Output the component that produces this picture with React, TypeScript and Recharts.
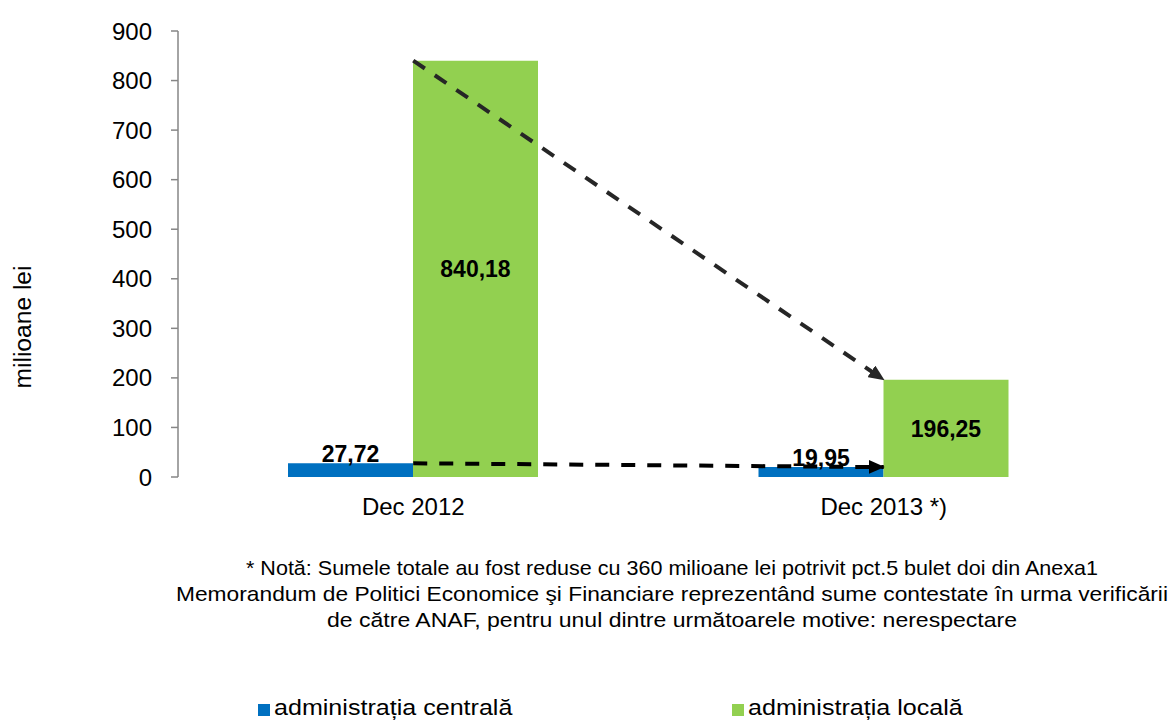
import React from "react";
import {
  ComposedChart,
  Bar,
  XAxis,
  YAxis,
  LabelList,
  ReferenceLine,
  Legend,
  Customized,
} from "recharts";

const categories = ["Dec 2012", "Dec 2013 *)"];
const centralValues = [27.72, 19.95];
const localValues = [840.18, 196.25];
const yTicks = [0, 100, 200, 300, 400, 500, 600, 700, 800, 900];
const boundaryTicks = [0, 1, 2];
const seriesNames = ["administrația centrală", "administrația locală"];
const noteLines = [
  "* Notă: Sumele totale au fost reduse cu 360 milioane lei potrivit pct.5 bulet doi din Anexa1",
  "Memorandum de Politici Economice şi Financiare reprezentând sume contestate în urma verificării",
  "de către ANAF,  pentru unul dintre următoarele motive: nerespectare",
];
const noteWidths = [852, 992, 690];

const data = categories.map((name, i) => ({
  name,
  central: centralValues[i],
  local: localValues[i],
}));

const FONT = "Arial, 'Liberation Sans', sans-serif";
const BLUE = "#0070C0";
const GREEN = "#92D050";
const AXIS = "#868686";

const fmt = (v: number) => v.toFixed(2).replace(".", ",");

function arrowShape(id: string, color: string) {
  return (props: any) => {
    const { x1, y1, x2, y2 } = props;
    return (
      <g>
        <defs>
          <marker
            id={id}
            markerUnits="userSpaceOnUse"
            markerWidth={16}
            markerHeight={14}
            refX={15}
            refY={7}
            orient="auto"
          >
            <path d="M0,0 L16,7 L0,14 z" fill={color} />
          </marker>
        </defs>
        <line
          x1={x1}
          y1={y1}
          x2={x2}
          y2={y2}
          stroke={color}
          strokeWidth={4}
          strokeDasharray="14 12"
          markerEnd={`url(#${id})`}
        />
      </g>
    );
  };
}

function Note() {
  return (
    <g>
      {noteLines.map((line, i) => (
        <text
          key={i}
          x={672}
          y={575 + i * 26}
          textAnchor="middle"
          fontFamily={FONT}
          fontSize={21}
          fill="#000"
          textLength={noteWidths[i]}
          lengthAdjust="spacingAndGlyphs"
        >
          {line}
        </text>
      ))}
    </g>
  );
}

function LegendContent({ payload }: any) {
  return (
    <div style={{ display: "flex", paddingLeft: 258, fontFamily: FONT }}>
      {(payload || []).map((entry: any) => (
        <div
          key={entry.value}
          style={{
            width: 474,
            flexShrink: 0,
            display: "flex",
            alignItems: "center",
            fontSize: 22,
            color: "#000",
          }}
        >
          <span
            style={{
              display: "inline-block",
              width: 12,
              height: 12,
              background: entry.color,
              marginRight: 4,
              marginTop: 4,
            }}
          />
          <span style={{ display: "inline-block", transform: "scaleX(1.14)", transformOrigin: "left center" }}>
            {entry.value}
          </span>
        </div>
      ))}
    </div>
  );
}

export default function App() {
  return (
    <div style={{ position: "absolute", left: 0, top: 0, width: 1168, height: 720, background: "#fff", overflow: "hidden" }}>
      <ComposedChart
        width={1168}
        height={720}
        data={data}
        margin={{ top: 31, right: 49, left: 118, bottom: 203 }}
        barGap={0}
      >
        <XAxis
          xAxisId="edges"
          type="number"
          domain={[0, 2]}
          ticks={boundaryTicks}
          allowDataOverflow
          height={0}
          tickSize={7}
          tickLine={{ stroke: AXIS, strokeWidth: 1.5 }}
          axisLine={{ stroke: AXIS, strokeWidth: 1.5 }}
          tickFormatter={() => ""}
        />
        <XAxis
          xAxisId="cat"
          dataKey="name"
          height={40}
          axisLine={false}
          tickLine={false}
          tickSize={0}
          tickMargin={21}
          tick={{ fontFamily: FONT, fontSize: 24, fill: "#000" }}
        />
        <YAxis
          width={60}
          domain={[0, 900]}
          ticks={yTicks}
          interval={0}
          tickSize={7}
          tickMargin={19}
          axisLine={{ stroke: AXIS, strokeWidth: 1.5 }}
          tickLine={{ stroke: AXIS, strokeWidth: 1.5 }}
          tick={{ fontFamily: FONT, fontSize: 24, fill: "#000" }}
          label={{
            value: "milioane lei",
            content: () => (
              <text
                x={0}
                y={0}
                transform="translate(23 327) rotate(-90)"
                textAnchor="middle"
                dominantBaseline="central"
                fontFamily={FONT}
                fontSize={23}
                fill="#000"
                textLength={123}
                lengthAdjust="spacingAndGlyphs"
              >
                milioane lei
              </text>
            ),
          }}
        />
        <Bar
          xAxisId="cat"
          dataKey="central"
          name={seriesNames[0]}
          fill={BLUE}
          barSize={125}
          isAnimationActive={false}
        >
          <LabelList
            dataKey="central"
            position="top"
            offset={1}
            formatter={(v: any) => fmt(Number(v))}
            style={{ fontFamily: FONT, fontSize: 23, fontWeight: "bold", fill: "#000" }}
          />
        </Bar>
        <Bar
          xAxisId="cat"
          dataKey="local"
          name={seriesNames[1]}
          fill={GREEN}
          barSize={125}
          isAnimationActive={false}
        >
          <LabelList
            dataKey="local"
            position="center"
            formatter={(v: any) => fmt(Number(v))}
            style={{ fontFamily: FONT, fontSize: 23, fontWeight: "bold", fill: "#000" }}
          />
        </Bar>
        <ReferenceLine
          xAxisId="cat"
          segment={[
            { x: categories[0], y: localValues[0] },
            { x: categories[1], y: localValues[1] },
          ]}
          shape={arrowShape("arrow-local", "#262626")}
        />
        <ReferenceLine
          xAxisId="cat"
          segment={[
            { x: categories[0], y: centralValues[0] },
            { x: categories[1], y: centralValues[1] },
          ]}
          shape={arrowShape("arrow-central", "#000")}
        />
        <Customized component={Note} />
        <Legend
          layout="horizontal"
          verticalAlign="middle"
          align="center"
          content={LegendContent}
          wrapperStyle={{ left: 0, top: 695, width: 1168 }}
        />
      </ComposedChart>
    </div>
  );
}
